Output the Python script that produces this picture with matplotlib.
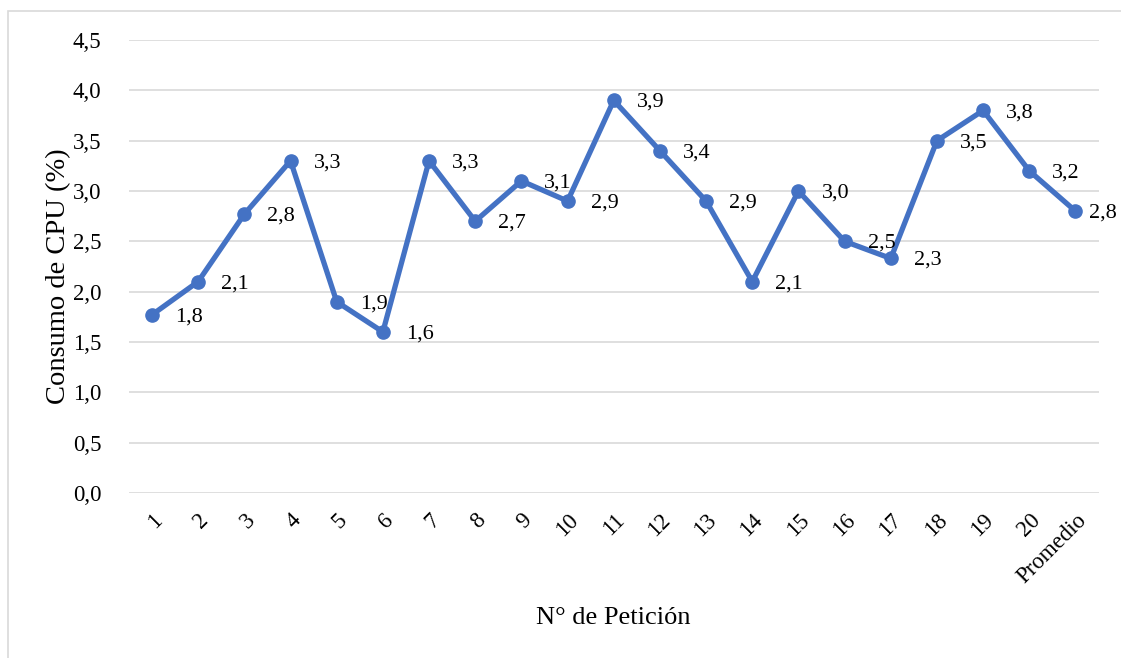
import matplotlib
matplotlib.use('Agg')
import matplotlib.pyplot as plt
from matplotlib.patches import Rectangle

# consumo de CPU por petición
peticiones = ['1', '2', '3', '4', '5', '6', '7', '8', '9', '10',
              '11', '12', '13', '14', '15', '16', '17', '18', '19', '20', 'Promedio']
consumo = [1.77, 2.10, 2.77, 3.30, 1.90, 1.60, 3.30, 2.70, 3.10, 2.90,
           3.90, 3.40, 2.90, 2.10, 3.00, 2.50, 2.33, 3.50, 3.80, 3.20, 2.80]
yticks = [0.0, 0.5, 1.0, 1.5, 2.0, 2.5, 3.0, 3.5, 4.0, 4.5]

plt.rcParams['font.family'] = ['Liberation Serif', 'DejaVu Serif']

fig = plt.figure(figsize=(11.21, 6.58), dpi=100)
ax = fig.add_axes([0.115, 0.2508, 0.865, 0.6884])

# marco gris del gráfico
fig.patches.append(Rectangle((8/1121, -0.1), 1.2, 1 - 11/658 + 0.1, transform=fig.transFigure,
                             fill=False, edgecolor='#d9d9d9', linewidth=1.2))

x = list(range(1, len(consumo) + 1))
ax.plot(x, consumo, color='#4472c4', linewidth=3.8, marker='o', markersize=9.5,
        solid_joinstyle='round', zorder=3)

for i, (xi, v) in enumerate(zip(x, consumo)):
    # la última etiqueta se acerca al punto para no salirse del gráfico
    dx = 20 if i == len(consumo) - 1 else 26.5
    ax.annotate(f'{v:.1f}'.replace('.', ','), (xi, v), xytext=(dx, -1.5),
                textcoords='offset points', ha='center', va='center', fontsize=16)

ax.set_xlim(0.5, len(consumo) + 0.5)
ax.set_ylim(0, 4.5)
ax.set_yticks(yticks)
ax.set_yticklabels([f'{t:.1f}'.replace('.', ',') for t in yticks], fontsize=16.5)
ax.set_xticks(x)
ax.set_xticklabels(peticiones, fontsize=16.5, rotation=45, ha='right', rotation_mode='anchor')
ax.tick_params(axis='both', length=0)
ax.tick_params(axis='y', pad=20)
ax.tick_params(axis='x', pad=12)

ax.grid(axis='y', color='#d9d9d9', linewidth=1.2)
ax.set_axisbelow(True)
for s in ax.spines.values():
    s.set_visible(False)

ax.set_xlabel('N° de Petición', fontsize=19)
ax.xaxis.set_label_coords(0.5, -0.252)
ax.set_ylabel('Consumo de CPU (%)', fontsize=20.5)
ax.yaxis.set_label_coords(-0.06, 0.479)

fig.savefig('out.png', dpi=100)
